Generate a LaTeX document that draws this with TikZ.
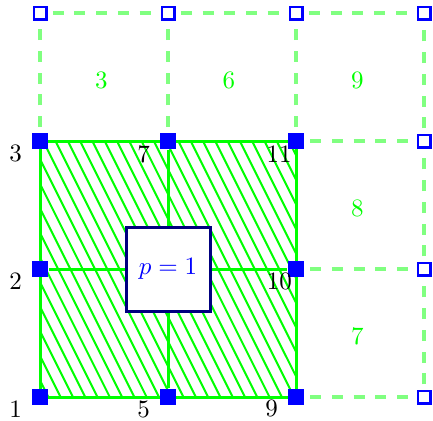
\documentclass[tikz,border=0pt]{standalone}
\usetikzlibrary{calc}
\pgfdeclarelayer{bg}
\pgfsetlayers{bg,main}
\begin{document}
\begin{tikzpicture}[x=1.8cm,y=1.8cm,
  solidv/.style={rectangle,fill=blue,inner sep=0pt,minimum size=6.6pt},
  openv/.style={rectangle,draw=blue,fill=white,line width=1pt,inner sep=0pt,minimum size=5pt},
  greenedge/.style={draw=green,line width=1.2pt},
  dashedge/.style={draw=green!50,line width=1.3pt,dash pattern=on 4.4pt off 4.3pt,dash phase=6.6pt},
  hatchline/.style={draw=green,line width=0.8pt},
  pbox/.style={draw=blue!50!black,fill=white,line width=1.2pt,minimum size=33.6pt,inner sep=0pt,text=blue},
  vlabel/.style={text=black,inner sep=0pt},
  clabel/.style={text=green,inner sep=0pt}]
\useasboundingbox (-0.3125,-0.18) rectangle (3.07,3.1016);
% vertices
\node[solidv] (v00) at (0,0) {};
\node[solidv] (v01) at (0,1) {};
\node[solidv] (v02) at (0,2) {};
\node[solidv] (v10) at (1,0) {};
\node[solidv] (v12) at (1,2) {};
\node[solidv] (v20) at (2,0) {};
\node[solidv] (v21) at (2,1) {};
\node[solidv] (v22) at (2,2) {};
\node[openv] (v03) at (0,3) {};
\node[openv] (v13) at (1,3) {};
\node[openv] (v23) at (2,3) {};
\node[openv] (v33) at (3,3) {};
\node[openv] (v32) at (3,2) {};
\node[openv] (v31) at (3,1) {};
\node[openv] (v30) at (3,0) {};
\node[pbox] (box) at (1,1) {$p=1$};
% vertex labels
\node[vlabel] (l1) at (-0.19,-0.095) {1};
\node[vlabel] (l2) at (-0.19,0.905) {2};
\node[vlabel] (l3) at (-0.19,1.905) {3};
\node[vlabel] (l5) at (0.81,-0.095) {5};
\node[vlabel] (l7) at (0.81,1.895) {7};
\node[vlabel] (l9) at (1.81,-0.09) {9};
\node[vlabel] (l10) at (1.87,0.9) {10};
\node[vlabel] (l11) at (1.867,1.895) {11};
% cell labels
\node[clabel] (c3) at (0.48,2.475) {3};
\node[clabel] (c6) at (1.475,2.475) {6};
\node[clabel] (c9) at (2.48,2.475) {9};
\node[clabel] (c8) at (2.48,1.475) {8};
\node[clabel] (c7) at (2.48,0.475) {7};
\begin{pgfonlayer}{bg}
  \begin{scope}
    \clip (v00.center) rectangle (v22.center);
    \foreach \i in {-12,...,22} {
      \draw[hatchline] (\i*0.096,2.05) -- ++(1.1,-2.2);
    }
  \end{scope}
  \draw[greenedge] (v00.center) -- (v20.center) -- (v22.center) -- (v02.center) -- cycle;
  \draw[greenedge] (v10) -- (box);
  \draw[greenedge] (box) -- (v12);
  \draw[greenedge] (v01) -- (box);
  \draw[greenedge] (box) -- (v21);
  \draw[dashedge] (v03) -- (v13);
  \draw[dashedge] (v13) -- (v23);
  \draw[dashedge] (v23) -- (v33);
  \draw[dashedge] (v02) -- (v03);
  \draw[dashedge] (v12) -- (v13);
  \draw[dashedge] (v22) -- (v23);
  \draw[dashedge] (v30) -- (v31);
  \draw[dashedge] (v31) -- (v32);
  \draw[dashedge] (v32) -- (v33);
  \draw[dashedge] (v22) -- (v32);
  \draw[dashedge] (v21) -- (v31);
  \draw[dashedge] (v20) -- (v30);
\end{pgfonlayer}
\end{tikzpicture}
\end{document}
